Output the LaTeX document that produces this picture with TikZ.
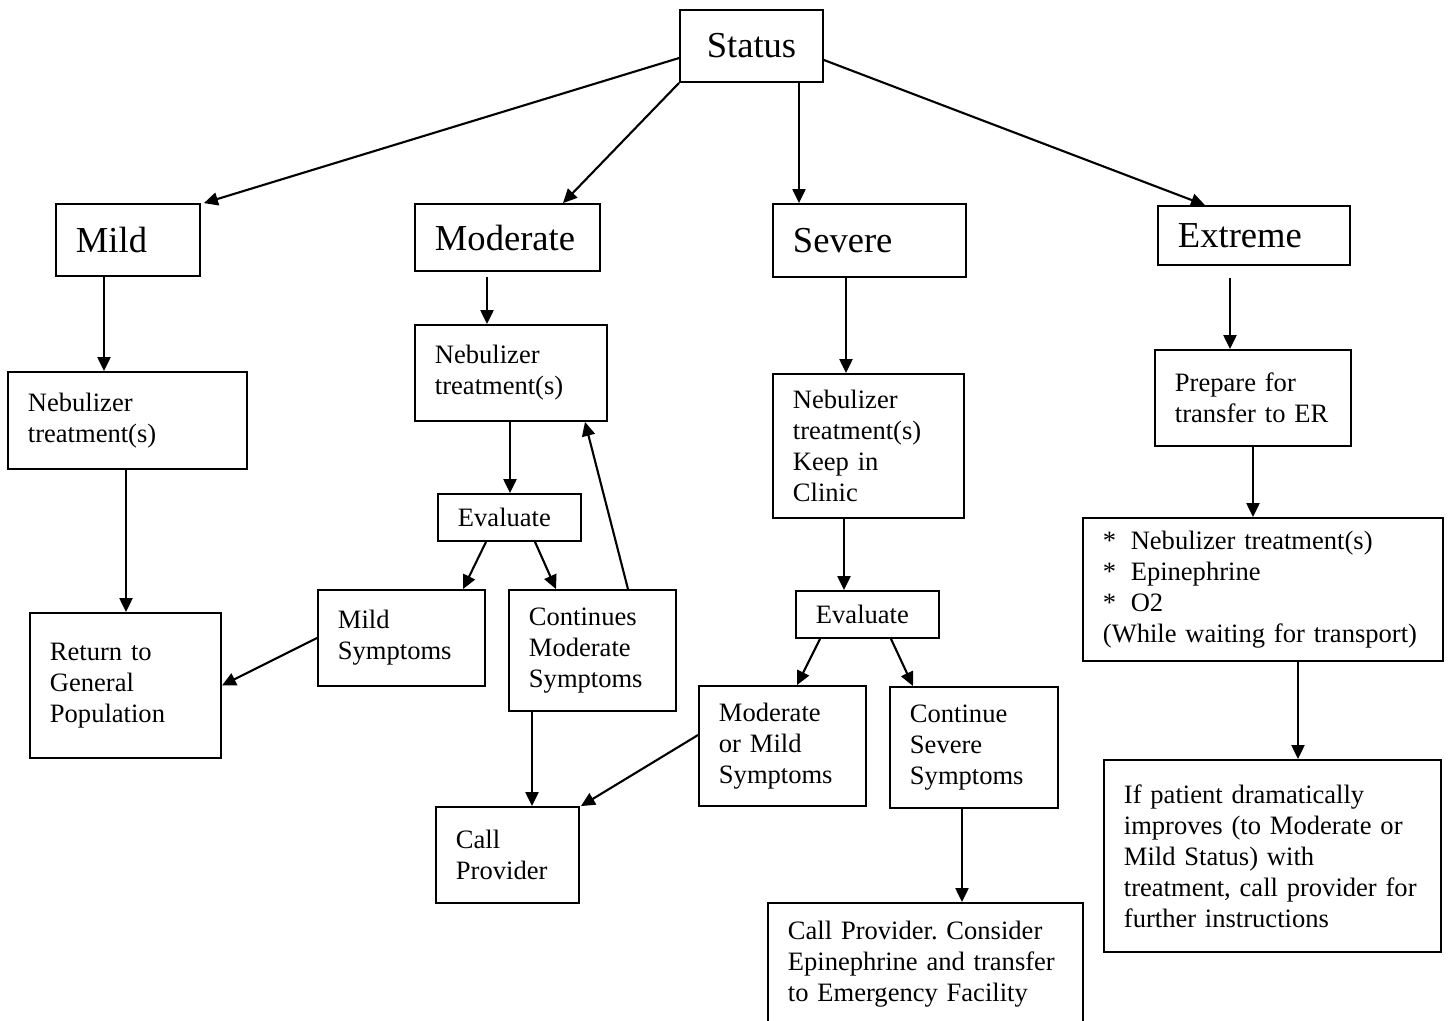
\documentclass[tikz,border=0pt]{standalone}
\usepackage{fontspec}
\setmainfont{Liberation Serif}
\usetikzlibrary{arrows.meta}
\usetikzlibrary{calc}
\frenchspacing

\begin{document}
\begin{tikzpicture}[x = .01cm, y = -.01cm,
  box/.style = {draw, line width = .5pt, inner xsep = .2cm, inner ysep = 0pt,
  align = left, font = \fontsize{7.55}{8.8}\selectfont},
  head/.style = {box, font = \fontsize{10.4}{12}\selectfont},
  arr/.style = {line width = .6pt, -{Triangle[length = .14cm, width = .13cm]}}]

  \useasboundingbox (0, 0) rectangle (1450, 1020);

  \node[head, align = center, text width = 1.03cm, minimum height = .72cm]
  (status) at (751.5, 46) {Status};
  \node[head, text width = 1.04cm, minimum height = .72cm] (mild) at (128, 240)
  {Mild};
  \node[head, text width = 1.45cm, minimum height = .67cm] (moderate) at
  (507.5, 237.5) {Moderate};
  \node[head, text width = 1.53cm, minimum height = .73cm] (severe) at
  (869.5, 240.5) {Severe};
  \node[head, text width = 1.52cm, minimum height = .59cm, text depth = 0pt]
  (extreme) at (1254, 235.5) {Extreme};

  % mild
  \node[box, text width = 1.99cm, minimum height = .97cm] (neb1) at
  (127.5, 420.5) {Nebulizer\\treatment(s)};
  \node[box, text width = 1.51cm, minimum height = 1.45cm] (ret) at
  (125.5, 685.5) {Return to\\General\\Population};

  % moderate
  \node[box, text width = 1.52cm, minimum height = .96cm] (neb2) at (511, 373)
  {Nebulizer\\treatment(s)};
  \node[box, text width = 1.03cm, minimum height = .47cm] (eval1) at
  (509.5, 517.5) {Evaluate};
  \node[box, text width = 1.27cm, minimum height = .96cm] (mildsym) at
  (401.5, 638) {Mild\\Symptoms};
  \node[box, text width = 1.27cm, minimum height = 1.21cm] (contmod) at
  (592.5, 650.5) {Continues\\Moderate\\Symptoms};
  \node[box, text width = 1.03cm, minimum height = .96cm] (call1) at
  (507.5, 855) {Call\\Provider};

  % severe
  \node[box, text width = 1.51cm, minimum height = 1.44cm] (neb3) at
  (868.5, 446) {Nebulizer\\treatment(s)\\Keep in\\Clinic};
  \node[box, text width = 1.03cm, minimum height = .47cm] (eval2) at
  (867.5, 614.5) {Evaluate};
  \node[box, text width = 1.27cm, minimum height = 1.2cm] (modmild) at
  (782.5, 746) {Moderate\\or Mild\\Symptoms};
  \node[box, text width = 1.28cm, minimum height = 1.21cm] (contsev) at
  (974, 747.5) {Continue\\Severe\\Symptoms};
  \node[box, text width = 2.75cm, minimum height = 1.22cm] (call2) at
  (925.5, 964) {Call Provider. Consider\\Epinephrine and transfer\\to
  Emergency Facility};

  % extreme
  \node[box, text width = 1.56cm, minimum height = .96cm] (prep) at (1253, 398)
  {Prepare for\\transfer to ER};
  \node[box, text width = 3.2cm, minimum height = 1.43cm] (list) at
  (1263, 589.5) {\makebox[1.05em][l]{*}Nebulizer treatment(s)\\
  \makebox[1.05em][l]{*}Epinephrine\\\makebox[1.05em][l]{*}O2\\
  (While waiting for transport)};
  \node[box, text width = 2.97cm, minimum height = 1.92cm] (ifpat) at
  (1272.5, 856) {If patient dramatically\\improves (to Moderate or\\Mild
  Status) with\\treatment, call provider for\\further instructions};

  \draw[arr] ($(status.west) + (0, 12)$) -- ($(mild.north east) + (3, 0)$);
  \draw[arr] (status.south west) -- ($(moderate.north) + (55.5, 0)$);
  \draw[arr] ($(status.south) + (47.5, 0)$) coordinate (S3) -- (S3 |- severe.north);
  \draw[arr] ($(status.east) + (0, 14)$) -- ($(extreme.north) + (-49, 0)$);

  \draw[arr] ($(mild.south) + (-24, 0)$) coordinate (M1) -- (M1 |- neb1.north);
  \draw[arr] ($(neb1.south) + (-1.5, 0)$) coordinate (M2) -- (M2 |- ret.north);

  \draw[arr] ($(moderate.south) + (-20.5, 5)$) coordinate (D1) -- (D1 |- neb2.north);
  \draw[arr] ($(neb2.south) + (-1, 0)$) coordinate (D2) -- (D2 |- eval1.north);
  \draw[arr] ($(eval1.south) + (-23.5, 0)$) -- ($(mildsym.north) + (61.5, 0)$);
  \draw[arr] ($(eval1.south) + (25.5, 0)$) -- ($(contmod.north) + (-36.5, 0)$);
  \draw[arr] ($(contmod.north) + (35.5, 0)$) -- ($(neb2.south) + (74, 0)$);
  \draw[arr] (mildsym.west) -- (ret.east);
  \draw[arr] ($(contmod.south) + (-60.5, 0)$) coordinate (D3) -- (D3 |- call1.north);

  \draw[arr] ($(severe.south) + (-23.5, 0)$) coordinate (V1) -- (V1 |- neb3.north);
  \draw[arr] ($(neb3.south) + (-24.5, 0)$) coordinate (V2) -- (V2 |- eval2.north);
  \draw[arr] ($(eval2.south) + (-47.5, 0)$) -- ($(modmild.north) + (14.5, 0)$);
  \draw[arr] ($(eval2.south) + (23.5, 0)$) -- ($(contsev.north) + (-61, 0)$);
  \draw[arr] ($(modmild.west) + (0, -11)$) -- ($(call1.north east) + (1, 0)$);
  \draw[arr] ($(contsev.south) + (-12, 0)$) coordinate (V3) -- (V3 |- call2.north);

  \draw[arr] ($(extreme.south) + (-24, 12)$) coordinate (E1) -- (E1 |- prep.north);
  \draw[arr] (prep.south) -- (prep.south |- list.north);
  \draw[arr] ($(list.south) + (35, 0)$) coordinate (E2) -- (E2 |- ifpat.north);
\end{tikzpicture}
\end{document}
